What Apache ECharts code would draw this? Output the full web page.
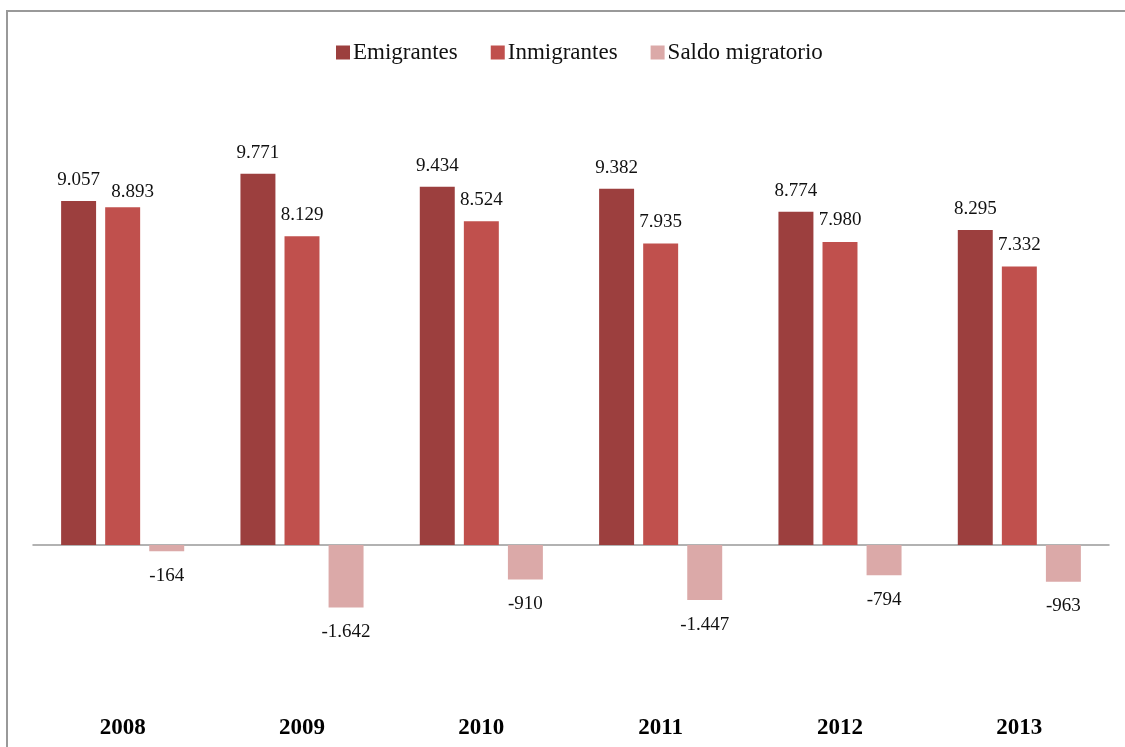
<!DOCTYPE html>
<html>
<head>
<meta charset="utf-8">
<script src="https://cdn.jsdelivr.net/npm/echarts@6/dist/echarts.min.js"></script>
<style>html,body{margin:0;padding:0;background:#fff}#c{width:1125px;height:747px}</style>
</head>
<body>
<div id="c"></div>
<script>
const years = ['2008','2009','2010','2011','2012','2013'];
const emigrantes = [9057, 9771, 9434, 9382, 8774, 8295];
const inmigrantes = [8893, 8129, 8524, 7935, 7980, 7332];
const saldo = [-164, -1642, -910, -1447, -794, -963];
const seriesNames = ['Emigrantes', 'Inmigrantes', 'Saldo migratorio'];
const colors = ['#9c3f3e', '#c0504d', '#dba9a8'];

const fmt = v => {
  const s = Math.abs(v).toString().replace(/\B(?=(\d{3})+(?!\d))/g, '.');
  return (v < 0 ? '-' : '') + s;
};
const serif = 'Liberation Serif, Times New Roman, serif';
const labelBase = { show: true, fontFamily: serif, fontSize: 19, color: '#111', formatter: p => fmt(p.value) };

const chart = echarts.init(document.getElementById('c'));
chart.setOption({
  animation: false,
  backgroundColor: '#fff',
  graphic: [{ type: 'rect', shape: { x: 7, y: 11, width: 2000, height: 2000 }, style: { fill: 'none', stroke: '#999', lineWidth: 2 } }],
  legend: {
    top: 36, left: 331, itemWidth: 14, itemHeight: 14, itemGap: 33,
    icon: 'rect',
    textStyle: { fontFamily: serif, fontSize: 23, color: '#111', padding: [0, 0, 0, -2] },
    data: seriesNames
  },
  grid: { left: 33, right: 16, top: 89.2, bottom: 50, outerBoundsMode: 'none', containLabel: false },
  xAxis: [{
    type: 'category', data: years,
    axisLine: { lineStyle: { color: '#999', width: 1.5 }, onZero: true },
    axisTick: { show: false },
    axisLabel: { show: false }
  }, {
    type: 'category', data: years, position: 'bottom',
    axisLine: { show: false, onZero: false },
    axisTick: { show: false },
    axisLabel: { fontFamily: serif, fontWeight: 'bold', fontSize: 23, color: '#000', margin: 20 }
  }],
  yAxis: { type: 'value', min: -4000, max: 12000, show: false, splitLine: { show: false } },
  series: [
    { name: seriesNames[0], type: 'bar', data: emigrantes, barWidth: '19.5%', barGap: '26%',
      itemStyle: { color: colors[0] }, label: Object.assign({}, labelBase, { position: 'top', distance: 11 }) },
    { name: seriesNames[1], type: 'bar', data: inmigrantes.map((v, i) => i === 0 ? { value: v, label: { offset: [10, 0], distance: 6 } } : v),
      barWidth: '19.5%', barGap: '26%',
      itemStyle: { color: colors[1] }, label: Object.assign({}, labelBase, { position: 'top', distance: 12 }) },
    { name: seriesNames[2], type: 'bar', data: saldo, barWidth: '19.5%', barGap: '26%',
      itemStyle: { color: colors[2] }, label: Object.assign({}, labelBase, { position: 'bottom', distance: 15 }) }
  ]
});
</script>
</body>
</html>
